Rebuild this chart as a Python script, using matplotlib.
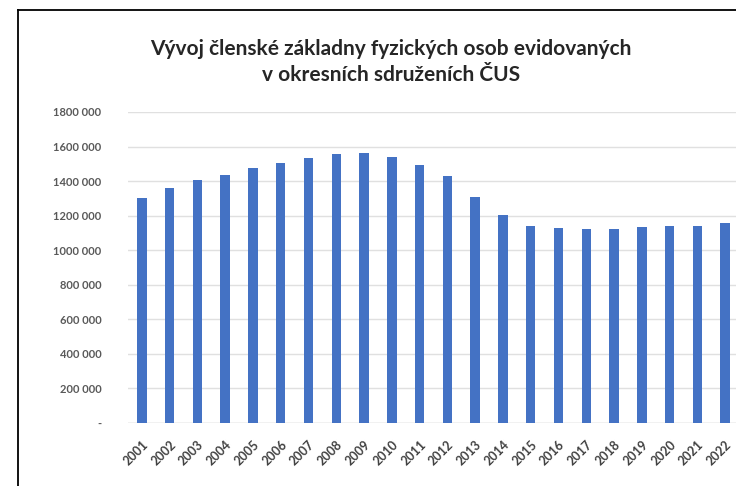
import matplotlib
matplotlib.use("Agg")
import matplotlib.pyplot as plt
from matplotlib.lines import Line2D
from matplotlib.ticker import FuncFormatter

years = [str(y) for y in range(2001, 2023)]
members = [
    1302000, 1360000, 1406000, 1435000, 1476000, 1505000, 1534000, 1557000,
    1563000, 1540000, 1493000, 1430000, 1308000, 1205000, 1140000, 1130000,
    1124000, 1124000, 1134000, 1140000, 1140000, 1155000,
]
y_ticks = [0, 200000, 400000, 600000, 800000, 1000000, 1200000, 1400000, 1600000, 1800000]
title = "Vývoj členské základny fyzických osob evidovaných\nv okresních sdruženích ČUS"

plt.rcParams["font.family"] = ["Lato", "DejaVu Sans"]

W, H = 736, 486
fig = plt.figure(figsize=(W / 100, H / 100), dpi=100)
fig.patch.set_facecolor("white")

ax = fig.add_axes([128 / W, 63 / H, 611 / W, 311 / H])
x = list(range(len(years)))
ax.bar(x, members, width=0.34, color="#4472C4", zorder=3)

ax.set_xlim(-0.5, len(years) - 0.5)
ax.set_ylim(0, 1800000)
ax.set_yticks(y_ticks)


def fmt(v, pos):
    v = int(v)
    if v == 0:
        return "-"
    return f"{v // 1000} {v % 1000:03d}"


ax.yaxis.set_major_formatter(FuncFormatter(fmt))
ax.set_xticks(x)
ax.set_xticklabels(years, rotation=45, ha="right", rotation_mode="anchor")

for lbl in ax.get_yticklabels():
    lbl.set_fontsize(8)
    lbl.set_fontweight("bold")
    lbl.set_color("#595959")
for lbl in ax.get_xticklabels():
    lbl.set_fontsize(9)
    lbl.set_fontweight("bold")
    lbl.set_color("#404040")

ax.tick_params(axis="y", length=0, pad=19)
ax.tick_params(axis="x", length=0, pad=11)
ax.grid(axis="y", color="#e0e0e0", linewidth=1, zorder=0)
for s in ax.spines.values():
    s.set_visible(False)
ax.axhline(0, color="#d9d9d9", linewidth=1, zorder=2)

fig.text(391 / W, 1 - 62 / H, title, ha="center", va="center", fontsize=15,
         fontweight="bold", color="#262626", linespacing=1.4)

# frame of the original screenshot (left and top edge)
fig.add_artist(Line2D([18 / W, 18 / W], [0, 1 - 10 / H], transform=fig.transFigure,
                      color="black", linewidth=1.3))
fig.add_artist(Line2D([18 / W, 1], [1 - 10 / H, 1 - 10 / H], transform=fig.transFigure,
                      color="black", linewidth=1.3))

fig.savefig("out.png", dpi=100)
